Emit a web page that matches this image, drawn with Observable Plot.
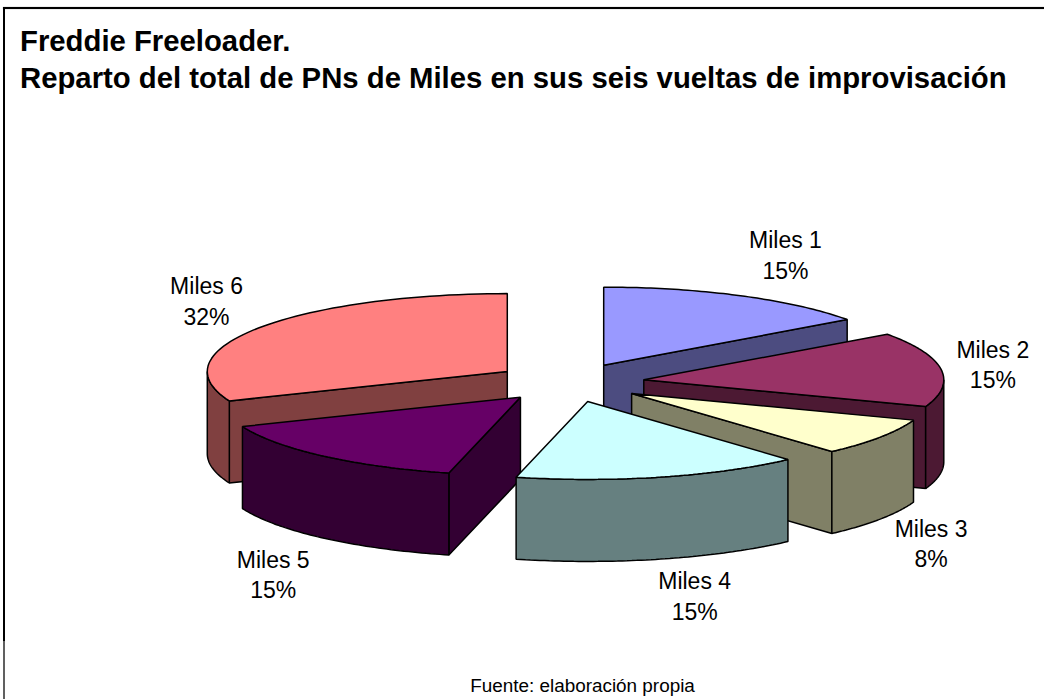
<!DOCTYPE html>
<html lang="es">
<head>
<meta charset="utf-8">
<script src="https://cdn.jsdelivr.net/npm/d3@7"></script>
<script src="https://cdn.jsdelivr.net/npm/@observablehq/plot@0.6"></script>
<style>
  html, body { margin: 0; padding: 0; background: #fff; overflow: hidden; }
  body { width: 1044px; height: 699px; position: relative; font-family: "Liberation Sans", Arial, sans-serif; color: #000; }
  #top { position: absolute; left: 3px; top: 7px; width: 1041px; height: 2px; background: #000; box-shadow: 0 0 1px #555; }
  #left { position: absolute; left: 3px; top: 7px; width: 2px; height: 634px; background: #000; }
  #left2 { position: absolute; left: 3px; top: 641px; width: 2px; height: 58px; background: #606060; }
  #title { position: absolute; left: 20px; top: 22px; font-weight: bold; font-size: 29.3px; line-height: 37px; white-space: nowrap; }
  #chart { position: absolute; left: 0; top: 118px; }
  #caption { position: absolute; left: 0; top: 675px; width: 1165px; text-align: center; font-size: 18.9px; line-height: 22px; }
  svg { display: block; }
</style>
</head>
<body>
<div id="top"></div><div id="left"></div><div id="left2"></div>
<div id="title">Freddie Freeloader.<br>Reparto del total de PNs de Miles en sus seis vueltas de improvisación</div>
<div id="chart"></div>
<div id="caption">Fuente: elaboración propia</div>
<script>
// Data (estimated counts, consistent with the printed percentages)
const categories = ["Miles 1", "Miles 2", "Miles 3", "Miles 4", "Miles 5", "Miles 6"];
const pnCounts = [8, 8, 4, 8, 8, 17];

// Styles
const topColors = ["#9999FF", "#993366", "#FFFFCC", "#CCFFFF", "#660066", "#FF8080"];
const sideColors = ["#4C4C80", "#4C1933", "#808066", "#668080", "#330033", "#804040"];

// Layout of the pseudo-3D pie, in units of the pie radius
const W = 1044, H = 545, pxPerUnit = 300, centreX = 569, centreY = 382 - 118;
const tilt = 0.26, depth = 82 / pxPerUnit, explode = 0.25;
const paintOrder = [0, 5, 1, 2, 4, 3];
const labelNudge = [[0.15, 0.14], [0.173, 0.02], [0.17, -0.35], [0.114, -0.393], [-0.17, -0.39], [-0.173, 0.094]];

const toRad = d => d * Math.PI / 180;
// slight perspective shift of the apparent angles
const view = t => t + 2 * (Math.cos(toRad(30)) - Math.cos(toRad(t - 30)));

const total = d3.sum(pnCounts);
let acc = 0;
const slices = pnCounts.map((v, i) => {
  const a0 = acc / total * 360; acc += v;
  const a1 = acc / total * 360;
  const start = view(a0), end = view(a1), mid = (start + end) / 2;
  return {
    i, name: categories[i], pct: d3.format(".0%")(v / total), start, end, mid,
    ox: explode * Math.sin(toRad(mid)), oy: explode * Math.cos(toRad(mid))
  };
});

const pt = (s, t, r = 1, z = 0) => ({
  x: s.ox + r * Math.sin(toRad(t)),
  y: tilt * (s.oy + r * Math.cos(toRad(t))) - z
});
const arc = (s, a, b, z = 0) => d3.range(0, 61).map(k => pt(s, a + (b - a) * k / 60, 1, z));

function faces(s) {
  const out = [];
  const add = (kind, color, pts) => pts.forEach(p => out.push({...p, face: s.name + kind, color}));
  const wall = t => [pt(s, 0, 0), pt(s, t), pt(s, t, 1, depth), pt(s, 0, 0, depth)];
  if (s.end > 0 && s.end < 180) add("end", sideColors[s.i], wall(s.end));
  if (s.start > 180 && s.start < 360) add("start", sideColors[s.i], wall(s.start));
  const a = Math.max(s.start, 90), b = Math.min(s.end, 270);
  if (b > a) add("rim", sideColors[s.i], [...arc(s, a, b), ...arc(s, b, a, depth)]);
  add("top", topColors[s.i], [pt(s, 0, 0), ...arc(s, s.start, s.end)]);
  return out;
}
const polygons = paintOrder.flatMap(i => faces(slices[i]));

const labels = slices.map((s, i) => {
  const p = pt(s, s.mid);
  return {x: p.x + labelNudge[i][0], y: p.y + labelNudge[i][1], text: s.name + "\n" + s.pct};
});

const chart = Plot.plot({
  width: W, height: H, margin: 0,
  x: {domain: [-centreX / pxPerUnit, (W - centreX) / pxPerUnit], range: [0, W], axis: null},
  y: {domain: [(centreY - H) / pxPerUnit, centreY / pxPerUnit], range: [H, 0], axis: null},
  style: {background: "transparent", overflow: "visible"},
  marks: [
    Plot.line(polygons, {x: "x", y: "y", z: "face", fill: "color", stroke: "#000", strokeWidth: 1.5, strokeLinejoin: "miter", curve: "linear-closed"}),
    Plot.text(labels, {x: "x", y: "y", text: "text", fontSize: 23, lineHeight: 1.33, fill: "#000", fontFamily: "Liberation Sans, Arial, sans-serif"})
  ]
});
document.getElementById("chart").appendChild(chart);
</script>
</body>
</html>
